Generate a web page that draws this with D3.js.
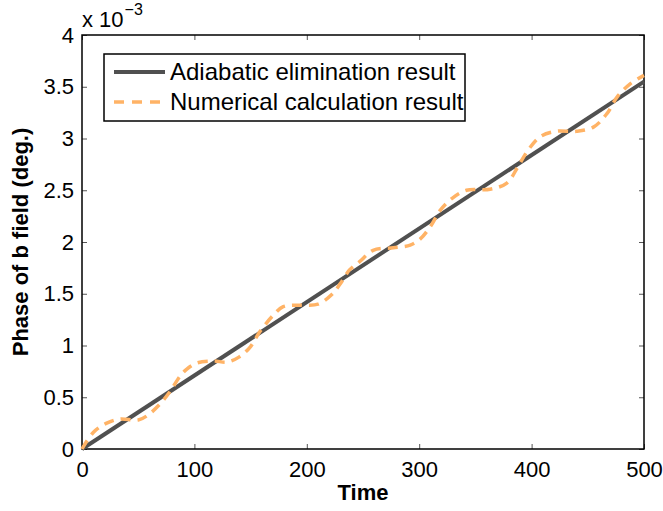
<!DOCTYPE html>
<html>
<head>
<meta charset="utf-8">
<script src="https://cdn.jsdelivr.net/npm/d3@7"></script>
<style>
  body { margin: 0; background: #fff; }
  svg { font-family: Arial, "Liberation Sans", sans-serif; }
</style>
</head>
<body>
<div id="chart"></div>
<script>

// chart data (phase in units of 1e-3 deg)
var adiabaticTime = [0, 500];
var adiabaticPhase = [0, 3.55];

var numericTime = [0, 10, 22, 34, 50, 59, 69, 78, 87, 93, 102, 117, 129, 140, 150, 158, 170,
    179, 194, 210, 222, 230, 238, 247, 259, 277, 292, 301, 310, 319, 329, 342, 363, 378,
    388, 397, 408, 422, 440, 455, 467, 476, 488, 500];
var numericPhase = [0, 0.16, 0.25, 0.29, 0.28, 0.33, 0.43, 0.55, 0.70, 0.77, 0.83, 0.85, 0.84, 0.89, 0.99, 1.13, 1.29,
    1.375, 1.39, 1.40, 1.49, 1.60, 1.73, 1.81, 1.92, 1.945, 1.97, 2.03, 2.15, 2.31, 2.42, 2.50, 2.51, 2.57,
    2.73, 2.89, 3.02, 3.07, 3.07, 3.11, 3.24, 3.40, 3.53, 3.61];

var xTicks = [0, 100, 200, 300, 400, 500];
var yTicks = [0, 0.5, 1, 1.5, 2, 2.5, 3, 3.5, 4];

var seriesNames = ['Adiabatic elimination result', 'Numerical calculation result'];

var svgWidth = 663;
var svgHeight = 511;

var chartMargin = { top: 35, right: 19, bottom: 62, left: 82 };

var chartWidth = svgWidth - chartMargin.left - chartMargin.right;
var chartHeight = svgHeight - chartMargin.top - chartMargin.bottom;

var svg = d3.select('#chart')
    .append('svg')
    .attr('width', svgWidth)
    .attr('height', svgHeight);

var chartGroup = svg.append('g')
    .attr('transform', `translate(${chartMargin.left}, ${chartMargin.top})`);

var xScale = d3.scaleLinear().domain([0, 500]).range([0, chartWidth]);
var yScale = d3.scaleLinear().domain([0, 4]).range([chartHeight, 0]);

// axes, ticks pointing inwards
var tickLen = 5;
var bottomAxis = d3.axisBottom(xScale).tickValues(xTicks).tickSizeInner(-tickLen).tickSizeOuter(0).tickPadding(12).tickFormat(d3.format(''));
var leftAxis = d3.axisLeft(yScale).tickValues(yTicks).tickSizeInner(-tickLen).tickSizeOuter(0).tickPadding(8).tickFormat(d3.format(''));
var topAxis = d3.axisTop(xScale).tickValues(xTicks).tickSizeInner(-tickLen).tickSizeOuter(0).tickFormat('');
var rightAxis = d3.axisRight(yScale).tickValues(yTicks).tickSizeInner(-tickLen).tickSizeOuter(0).tickFormat('');

var gx = chartGroup.append('g').attr('transform', `translate(0,${chartHeight})`).call(bottomAxis);
var gy = chartGroup.append('g').call(leftAxis);
var gt = chartGroup.append('g').call(topAxis);
var gr = chartGroup.append('g').attr('transform', `translate(${chartWidth},0)`).call(rightAxis);

[gx, gy, gt, gr].forEach(function(g) {
    g.select('.domain').remove();
    g.selectAll('.tick line').attr('stroke', '#555').attr('stroke-width', 1);
    g.selectAll('.tick text').attr('font-size', '22px').attr('fill', '#000')
        .attr('font-family', 'Arial, "Liberation Sans", sans-serif');
});

// plot box
chartGroup.append('rect')
    .attr('x', 0).attr('y', 0)
    .attr('width', chartWidth).attr('height', chartHeight)
    .attr('fill', 'none').attr('stroke', '#000').attr('stroke-width', 1.5);

// lines
var adiabaticData = adiabaticTime.map((t, i) => [t, adiabaticPhase[i]]);
var numericData = numericTime.map((t, i) => [t, numericPhase[i]]);

var lineGen = d3.line()
    .x(d => xScale(d[0]))
    .y(d => yScale(d[1]));

chartGroup.append('path')
    .datum(adiabaticData)
    .attr('d', lineGen)
    .attr('fill', 'none')
    .attr('stroke', '#505050')
    .attr('stroke-width', 4);

chartGroup.append('path')
    .datum(numericData)
    .attr('d', lineGen.curve(d3.curveCatmullRom.alpha(0.5)))
    .attr('fill', 'none')
    .attr('stroke', '#ffb366')
    .attr('stroke-width', 3.5)
    .attr('stroke-dasharray', '10,7');

// exponent label
var expLabel = svg.append('text')
    .attr('x', chartMargin.left)
    .attr('y', 27)
    .attr('font-size', '22px')
    .text('x 10');
expLabel.append('tspan')
    .attr('font-size', '16px')
    .attr('dy', -12)
    .attr('dx', 1)
    .text('\u22123');

// axis titles
svg.append('text')
    .attr('x', chartMargin.left + chartWidth / 2)
    .attr('y', 500)
    .attr('text-anchor', 'middle')
    .attr('font-size', '22px')
    .attr('font-weight', 'bold')
    .text('Time');

svg.append('text')
    .attr('transform', `translate(${28}, ${chartMargin.top + chartHeight / 2}) rotate(-90)`)
    .attr('text-anchor', 'middle')
    .attr('font-size', '22px')
    .attr('font-weight', 'bold')
    .text('Phase of b field (deg.)');

// legend
var legend = svg.append('g').attr('transform', 'translate(104, 54)');
legend.append('rect')
    .attr('width', 361).attr('height', 67)
    .attr('fill', '#fff').attr('stroke', '#000').attr('stroke-width', 1.5);

var legendStyles = [
    { color: '#505050', width: 4, dash: null },
    { color: '#ffb366', width: 3.5, dash: '10,8' }
];

seriesNames.forEach(function(name, i) {
    var y = 18 + i * 30;
    legend.append('line')
        .attr('x1', 10).attr('x2', 61)
        .attr('y1', y).attr('y2', y)
        .attr('stroke', legendStyles[i].color)
        .attr('stroke-width', legendStyles[i].width)
        .attr('stroke-dasharray', legendStyles[i].dash);
    legend.append('text')
        .attr('x', 66)
        .attr('y', y + 8)
        .attr('font-size', '24px')
        .text(name);
});

</script>
</body>
</html>
